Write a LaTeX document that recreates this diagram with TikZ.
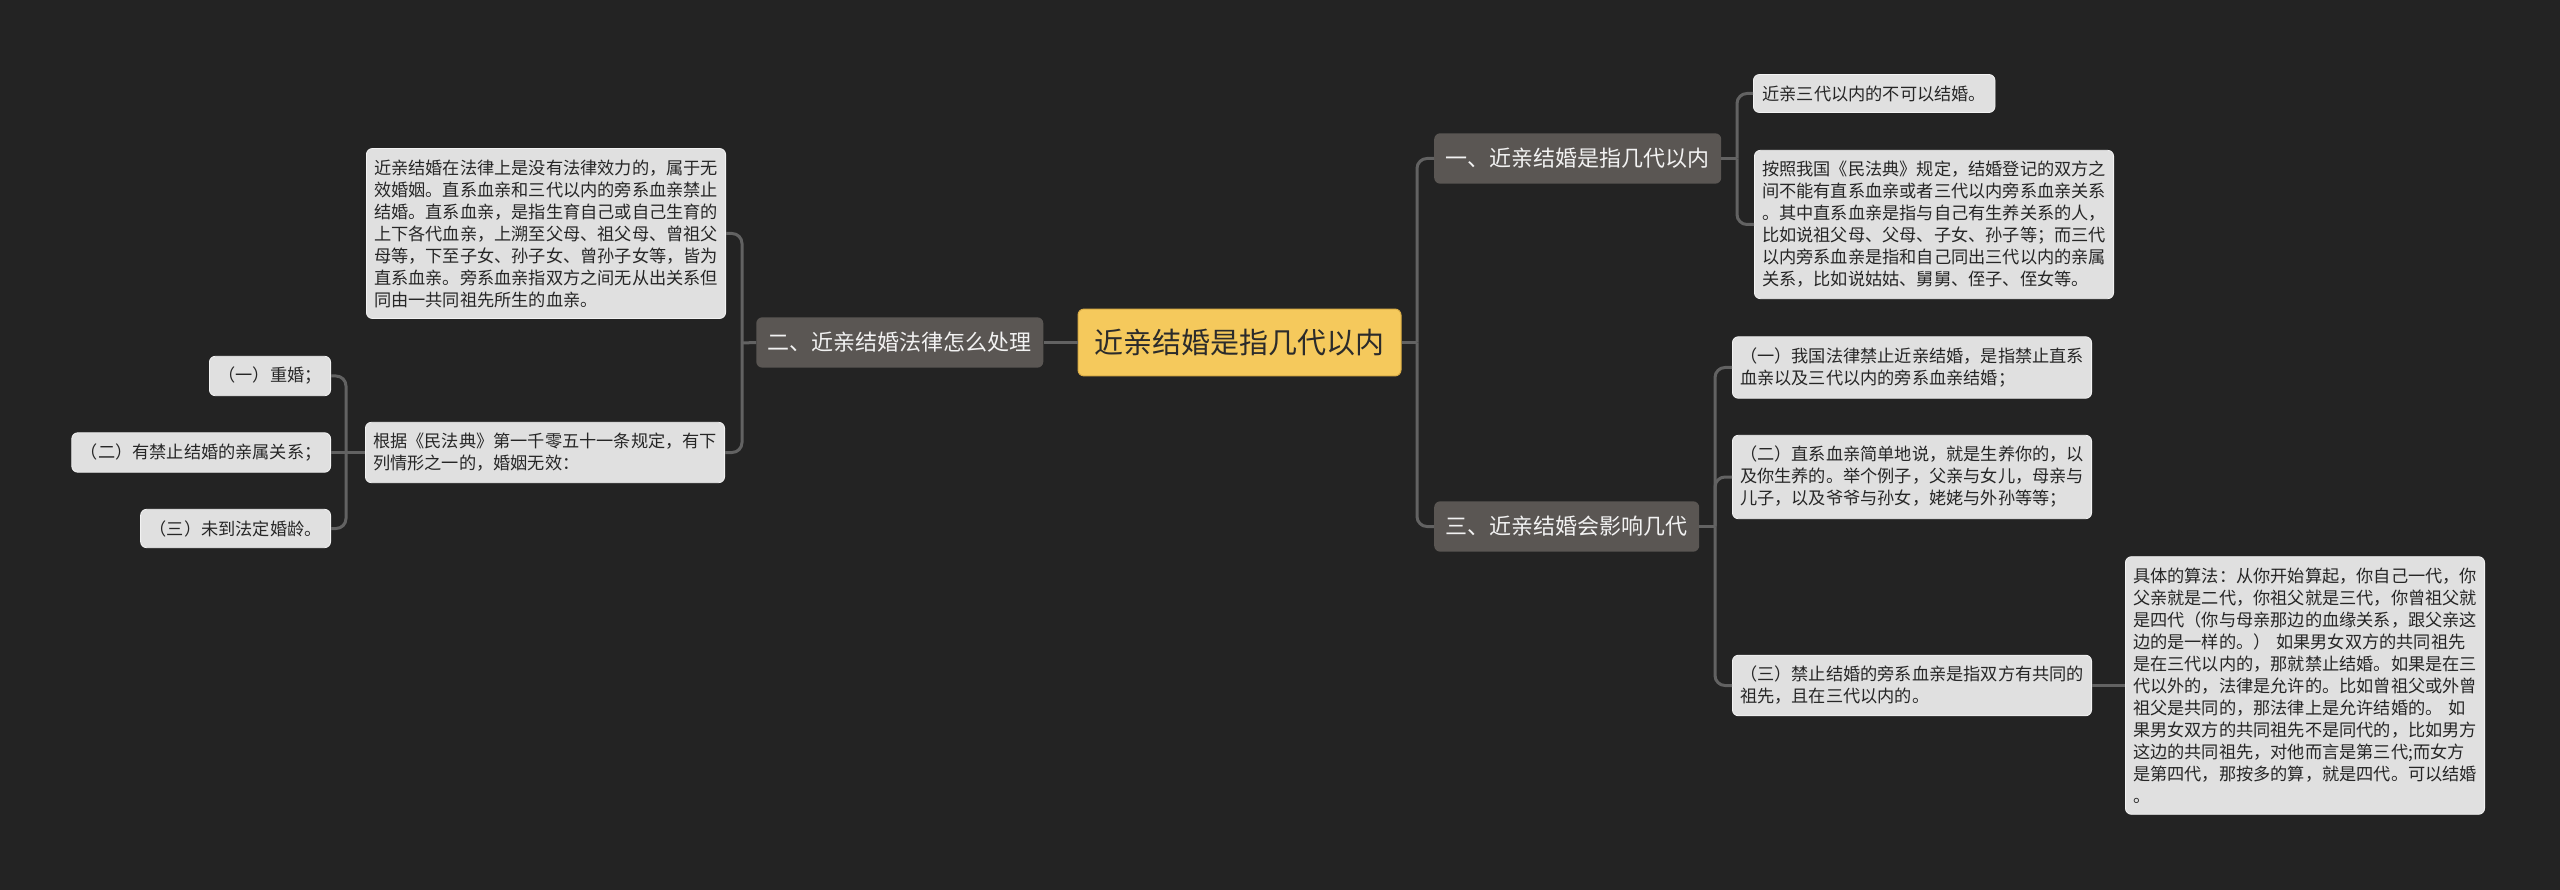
\documentclass[tikz,border=0pt]{standalone}
\usepackage{fontspec}
\setmainfont{Noto Sans CJK SC}
\usepackage{tikz}
\usetikzlibrary{positioning}
\definecolor{bgdark}{HTML}{232323}
\definecolor{rootfill}{HTML}{F5C95C}
\definecolor{rootline}{HTML}{D9AC45}
\definecolor{rootink}{HTML}{2B2B2B}
\definecolor{branchfill}{HTML}{5A5653}
\definecolor{branchink}{HTML}{F2F2F2}
\definecolor{leaffill}{HTML}{E0E0E0}
\definecolor{leafline}{HTML}{F2F2F2}
\definecolor{leafink}{HTML}{262626}
\definecolor{linkgray}{HTML}{626262}
\tikzset{
  rootnode/.style={rectangle, draw=rootline, fill=rootfill, text=rootink,
    rounded corners=6pt, inner xsep=16.5pt, inner ysep=20pt,
    font=\fontsize{29pt}{34pt}\selectfont, line width=1pt},
  branch/.style={rectangle, fill=branchfill, text=branchink,
    rounded corners=6pt, inner xsep=11.5pt, inner ysep=15pt,
    font=\fontsize{22pt}{26pt}\selectfont},
  leaf/.style={rectangle, draw=leafline, fill=leaffill, text=leafink,
    rounded corners=6pt, inner xsep=9pt, inner ysep=11pt, align=left,
    font=\fontsize{17.2pt}{22pt}\selectfont, line width=0.8pt},
  longleaf/.style={leaf, text width=344pt, inner xsep=7.6pt},
  link/.style={draw=linkgray, line width=3pt, rounded corners=10pt}
}
\begin{document}
\begin{tikzpicture}[x=1pt, y=-1pt]
  \fill[bgdark] (0,0) rectangle (2560,890);
  \useasboundingbox (0,0) rectangle (2560,890);

  % Root
  \node[rootnode] (root) at (1239.5,342.5) {近亲结婚是指几代以内};

  % Branch two (left)
  \node[branch, left=34pt of root] (legal) {二、近亲结婚法律怎么处理};
  \node[longleaf, anchor=east] (invalid) at (726,233.5) {近亲结婚在法律上是没有法律效力的，属于无\\效婚姻。直系血亲和三代以内的旁系血亲禁止\\结婚。直系血亲，是指生育自己或自己生育的\\上下各代血亲，上溯至父母、祖父母、曾祖父\\母等，下至子女、孙子女、曾孙子女等，皆为\\直系血亲。旁系血亲指双方之间无从出关系但\\同由一共同祖先所生的血亲。};
  \node[longleaf, anchor=east] (civil) at (725,452.5) {根据《民法典》第一千零五十一条规定，有下\\列情形之一的，婚姻无效：};
  \node[leaf, anchor=east] (bigamy) at (331,376) {（一）重婚；};
  \node[leaf, anchor=east] (kinship) at (331,452.5) {（二）有禁止结婚的亲属关系；};
  \node[leaf, anchor=east] (underage) at (331,528.5) {（三）未到法定婚龄。};

  % Branch one (right, top)
  \node[branch, anchor=west] (range) at (1434,158.5) {一、近亲结婚是指几代以内};
  \node[leaf, anchor=west] (three) at (1753,93.5) {近亲三代以内的不可以结婚。};
  \node[longleaf, anchor=west] (code) at (1754,224.5) {按照我国《民法典》规定，结婚登记的双方之\\间不能有直系血亲或者三代以内旁系血亲关系\\。其中直系血亲是指与自己有生养关系的人，\\比如说祖父母、父母、子女、孙子等；而三代\\以内旁系血亲是指和自己同出三代以内的亲属\\关系，比如说姑姑、舅舅、侄子、侄女等。};

  % Branch three (right, bottom)
  \node[branch, anchor=west] (effect) at (1434,526.5) {三、近亲结婚会影响几代};
  \node[longleaf, anchor=west] (banned) at (1732,367.5) {（一）我国法律禁止近亲结婚，是指禁止直系\\血亲以及三代以内的旁系血亲结婚；};
  \node[longleaf, anchor=west] (direct) at (1732,477) {（二）直系血亲简单地说，就是生养你的，以\\及你生养的。举个例子，父亲与女儿，母亲与\\儿子，以及爷爷与孙女，姥姥与外孙等等；};
  \node[longleaf, anchor=west] (collateral) at (1732,685.5) {（三）禁止结婚的旁系血亲是指双方有共同的\\祖先，且在三代以内的。};
  \node[longleaf, right=33pt of collateral] (count) {具体的算法：从你开始算起，你自己一代，你\\父亲就是二代，你祖父就是三代，你曾祖父就\\是四代（你与母亲那边的血缘关系，跟父亲这\\边的是一样的。）~如果男女双方的共同祖先\\是在三代以内的，那就禁止结婚。如果是在三\\代以外的，法律是允许的。比如曾祖父或外曾\\祖父是共同的，那法律上是允许结婚的。~如\\果男女双方的共同祖先不是同代的，比如男方\\这边的共同祖先，对他而言是第三代;而女方\\是第四代，那按多的算，就是四代。可以结婚\\。};

  % Spines
  \coordinate (rspine) at (1417,342.5);
  \coordinate (lspine) at (742,343);
  \coordinate (cspine) at (346,452.5);
  \coordinate (tspine) at (1737,158.5);
  \coordinate (bspine) at (1715,526.5);

  % Links
  \draw[link] (root.west) -- (legal.east);
  \draw[link] (root.east) -- (rspine);
  \draw[link] (range.west) -| (rspine);
  \draw[link] (effect.west) -| (rspine);
  \draw[link] (legal.west) -- (lspine);
  \draw[link] (invalid.east) -| (lspine);
  \draw[link] (civil.east) -| (lspine);
  \draw[link] (civil.west) -- (cspine);
  \draw[link] (bigamy.east) -| (cspine);
  \draw[link] (kinship.east) -- (cspine);
  \draw[link] (underage.east) -| (cspine);
  \draw[link] (range.east) -- (tspine);
  \draw[link] (three.west) -| (tspine);
  \draw[link] (code.west) -| (tspine);
  \draw[link] (effect.east) -- (bspine);
  \draw[link] (banned.west) -| (bspine);
  \draw[link] (direct.west) -| (bspine);
  \draw[link] (collateral.west) -| (bspine);
  \draw[link] (collateral.east) -- (count.west);
\end{tikzpicture}
\end{document}
